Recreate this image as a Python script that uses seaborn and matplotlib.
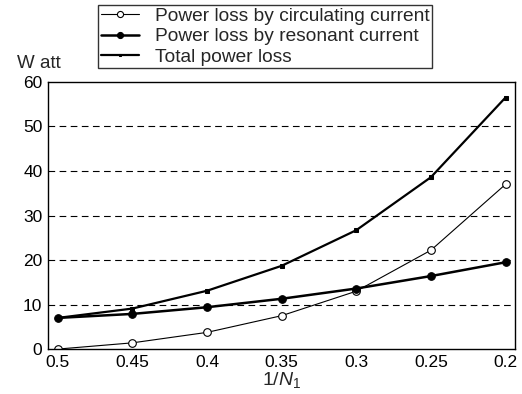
import matplotlib
matplotlib.use("Agg")
import matplotlib.pyplot as plt
import seaborn as sns
import pandas as pd

sns.set_style("white")
plt.rcParams['font.family'] = ['Liberation Sans', 'DejaVu Sans']
plt.rcParams['mathtext.fontset'] = 'custom'
plt.rcParams['mathtext.rm'] = 'Liberation Sans'
plt.rcParams['mathtext.it'] = 'Liberation Sans:italic'

x_vals = [0.5, 0.45, 0.4, 0.35, 0.3, 0.25, 0.2]
circulating = [0.0, 1.4, 3.75, 7.5, 13.0, 22.2, 37.0]
resonant = [7.0, 7.9, 9.4, 11.3, 13.6, 16.4, 19.5]
total = [7.0, 9.1, 13.1, 18.7, 26.7, 38.6, 56.5]
labels = ["Power loss by circulating current",
          "Power loss by resonant current",
          "Total power loss"]
x_ticks = [0.5, 0.45, 0.4, 0.35, 0.3, 0.25, 0.2]
y_ticks = [0, 10, 20, 30, 40, 50, 60]

fig = plt.figure(figsize=(5.22, 3.94), dpi=100)
ax = fig.add_axes([0.092, 0.114, 0.895, 0.678])

df_c = pd.DataFrame({"x": x_vals, "y": circulating})
df_r = pd.DataFrame({"x": x_vals, "y": resonant})
df_t = pd.DataFrame({"x": x_vals, "y": total})

sns.lineplot(data=df_c, x="x", y="y", ax=ax, color="black", linewidth=0.8,
             marker="o", markersize=5.5, markerfacecolor="white",
             markeredgecolor="black", markeredgewidth=0.8, label=labels[0])
sns.lineplot(data=df_r, x="x", y="y", ax=ax, color="black", linewidth=1.8,
             marker="o", markersize=5.5, markerfacecolor="black",
             markeredgecolor="black", label=labels[1])
sns.lineplot(data=df_t, x="x", y="y", ax=ax, color="black", linewidth=1.6,
             marker="s", markersize=2.5, markerfacecolor="black",
             markeredgecolor="black", label=labels[2])

ax.set_xlim(0.5065, 0.1935)
ax.set_ylim(0, 60)
ax.set_xticks(x_ticks)
ax.set_xticklabels([str(v) for v in x_ticks])
ax.set_yticks(y_ticks)
for yv in y_ticks[1:-1]:
    ax.axhline(yv, color="black", linestyle=(0, (6, 4)), linewidth=0.8, zorder=0)

for s in ax.spines.values():
    s.set_color("black")
    s.set_linewidth(1.0)
ax.tick_params(axis="both", direction="in", length=3, labelsize=12.5, colors="black", pad=4)
ax.set_xlabel(r"$\mathit{1/N}_{\mathit{1}}$", fontsize=14, labelpad=0)
ax.set_ylabel("")
fig.text(0.033, 0.84, "W att", fontsize=13.5, ha="left", va="center")

leg = ax.legend(loc="upper left", bbox_to_anchor=(0.188, 0.988),
                bbox_transform=fig.transFigure, frameon=True, fancybox=False,
                edgecolor="black", fontsize=13.8, handlelength=2.0,
                handletextpad=0.8, borderpad=0.15, labelspacing=0.15,
                borderaxespad=0, markerscale=0.8)
leg.get_frame().set_linewidth(1.0)

fig.savefig("out.png", dpi=100)
